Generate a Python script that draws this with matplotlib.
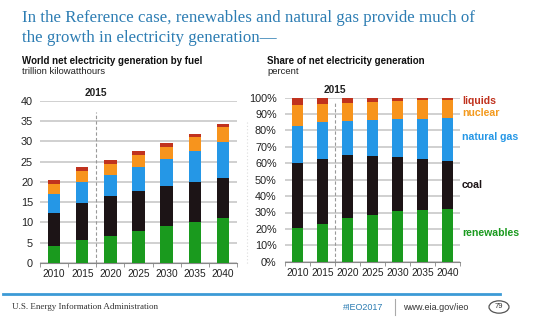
import matplotlib
matplotlib.use("Agg")
import matplotlib.pyplot as plt
import numpy as np
from matplotlib.patches import Circle

years = ["2010", "2015", "2020", "2025", "2030", "2035", "2040"]
fuels = ["renewables", "coal", "natural gas", "nuclear", "liquids"]

# trillion kWh (left)
renewables = [4.3, 5.6, 6.7, 7.8, 9.0, 10.0, 11.0]
coal = [7.9, 9.1, 9.8, 10.0, 9.9, 9.9, 10.0]
natural_gas = [4.7, 5.3, 5.3, 5.9, 6.7, 7.7, 8.8]
nuclear = [2.5, 2.7, 2.6, 2.9, 3.1, 3.4, 3.6]
liquids = [1.1, 0.9, 1.1, 0.9, 0.8, 0.7, 0.8]

# percent share (right)
sh_renewables = [20.7, 23.0, 26.4, 28.3, 30.9, 31.5, 31.9]
sh_coal = [39.3, 39.6, 38.6, 36.1, 33.1, 31.1, 29.5]
sh_natural_gas = [22.7, 22.8, 21.0, 22.0, 22.8, 24.4, 26.0]
sh_nuclear = [12.8, 10.7, 11.0, 11.2, 11.4, 11.4, 11.2]
sh_liquids = [4.5, 3.9, 3.0, 2.4, 1.8, 1.6, 1.4]

colors = ["#1a9a1e", "#1c1416", "#2597e6", "#f7941d", "#c0321e"]

W, H = 533, 329
fig = plt.figure(figsize=(W / 100, H / 100), dpi=100)
fig.patch.set_facecolor("white")
plt.rcParams["font.family"] = ["Liberation Sans", "DejaVu Sans"]

def fx(x):
    return x / W

def fy(y):
    return 1 - y / H

tc = "#2d7db3"
fig.text(fx(22), fy(18), "In the Reference case, renewables and natural gas provide much of",
         family="Liberation Serif", fontsize=12.2, color=tc, va="center", ha="left")
fig.text(fx(22), fy(38), "the growth in electricity generation\u2014",
         family="Liberation Serif", fontsize=12.2, color=tc, va="center", ha="left")

fig.text(fx(22), fy(60.5), "World net electricity generation by fuel", fontsize=7,
         fontweight="bold", color="#111111", va="center")
fig.text(fx(22), fy(71), "trillion kilowatthours", fontsize=6.8, color="#222222", va="center")
fig.text(fx(267), fy(60.5), "Share of net electricity generation", fontsize=7,
         fontweight="bold", color="#111111", va="center")
fig.text(fx(267), fy(71), "percent", fontsize=6.8, color="#222222", va="center")

def setup(ax, ymax, step, fmt, pad):
    ax.set_xlim(-0.5, 6.5)
    ax.set_ylim(0, ymax)
    ax.set_yticks(np.arange(0, ymax + 0.001, step))
    ax.set_yticklabels([fmt(v) for v in np.arange(0, ymax + 0.001, step)])
    ax.yaxis.grid(True, color="#c4c4c4", linewidth=1.1)
    ax.set_axisbelow(True)
    for s in ["left", "right", "top"]:
        ax.spines[s].set_visible(False)
    ax.spines["bottom"].set_color("#888888")
    ax.tick_params(axis="y", length=0, labelsize=7.8, pad=pad, colors="#222222")
    ax.set_xticks(range(7))
    ax.set_xticklabels(years)
    ax.set_xticks(np.arange(-0.5, 7, 1), minor=True)
    ax.tick_params(axis="x", which="major", length=0, labelsize=7.3, pad=4.5, colors="#222222")
    ax.tick_params(axis="x", which="minor", length=3, color="#888888", direction="out")

# left chart
ax1 = fig.add_axes([fx(40), fy(263), fx(237) - fx(40), (263 - 100.7) / H])
x = np.arange(len(years))
bottom = np.zeros(len(years))
for vals, c in zip([renewables, coal, natural_gas, nuclear, liquids], colors):
    ax1.bar(x, vals, bottom=bottom, width=0.44, color=c, edgecolor="none", zorder=3)
    bottom += np.array(vals)
setup(ax1, 40, 5, lambda v: f"{int(v)}", 5)
ax1.axvline(1.5, ymin=0, ymax=0.93, color="#999999", linestyle=(0, (3, 2)), linewidth=0.8, zorder=2)
ax1.text(1.5, 41.8, "2015", ha="center", va="center", fontsize=7.3, fontweight="bold",
         color="#222222")

# right chart
ax2 = fig.add_axes([fx(285), fy(261.7), fx(460) - fx(285), (261.7 - 97.7) / H])
bottom = np.zeros(len(years))
for vals, c in zip([sh_renewables, sh_coal, sh_natural_gas, sh_nuclear, sh_liquids], colors):
    ax2.bar(x, vals, bottom=bottom, width=0.42, color=c, edgecolor="none", zorder=3)
    bottom += np.array(vals)
setup(ax2, 100, 10, lambda v: f"{int(v)}%", 6)
ax2.axvline(1.5, ymin=0, ymax=0.98, color="#999999", linestyle=(0, (3, 2)), linewidth=0.8, zorder=2)
ax2.text(1.5, 104.5, "2015", ha="center", va="center", fontsize=7.3, fontweight="bold",
         color="#222222", clip_on=False)

# faint dotted separator
fig.add_artist(plt.Line2D([fx(247), fx(247)], [fy(122), fy(265)], color="#dddddd",
                          linestyle=(0, (1, 2)), linewidth=0.8))

labels = [("liquids", 101, colors[4]), ("nuclear", 113, "#f39a1e"),
          ("natural gas", 137, colors[2]), ("coal", 185, "#1c1416"),
          ("renewables", 233, colors[0])]
for t, yy, c in labels:
    fig.text(fx(462), fy(yy), t, fontsize=7.6, fontweight="bold", color=c, va="center")

# footer
fig.add_artist(plt.Line2D([fx(3), fx(500)], [fy(294), fy(294)], color="#3c9ad6", linewidth=2.0))
fig.text(fx(12), fy(307), "U.S. Energy Information Administration", family="Liberation Serif",
         fontsize=6.5, color="#333333", va="center")
fig.text(fx(343), fy(307), "#IEO2017", fontsize=6.5, color="#2d7db3", va="center")
fig.add_artist(plt.Line2D([fx(395), fx(395)], [fy(299), fy(315)], color="#aaaaaa", linewidth=0.8))
fig.text(fx(403), fy(307), "www.eia.gov/ieo", fontsize=6.5, color="#333333", va="center")
circ = Circle((fx(499), fy(307)), 10 / W, transform=fig.transFigure, fill=False,
              edgecolor="#555555", linewidth=0.9)
fig.patches.append(circ)
fig.text(fx(499), fy(307), "79", fontsize=5.5, color="#333333", ha="center", va="center")

fig.savefig("out.png", dpi=100, facecolor="white")
